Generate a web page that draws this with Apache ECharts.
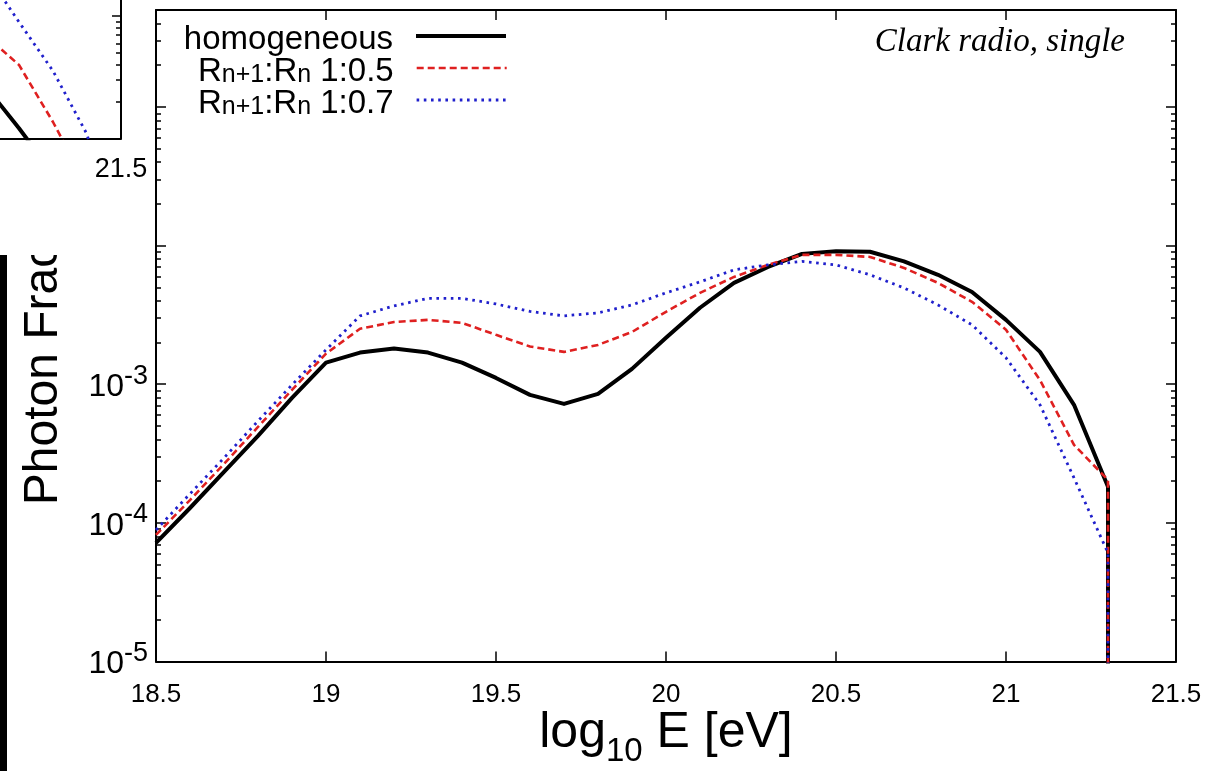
<!DOCTYPE html>
<html>
<head>
<meta charset="utf-8">
<script src="https://cdn.jsdelivr.net/npm/echarts@6/dist/echarts.min.js"></script>
<style>
  html, body { margin: 0; padding: 0; background: #fff; }
  #chart { width: 1209px; height: 771px; }
</style>
</head>
<body>
<div id="chart"></div>
<script>
// Energy bins, log10(E / eV)
const logE = [18.5, 18.6, 18.7, 18.8, 18.9, 19.0, 19.1, 19.2, 19.3, 19.4,
              19.5, 19.6, 19.7, 19.8, 19.9, 20.0, 20.1, 20.2, 20.3, 20.4,
              20.5, 20.6, 20.7, 20.8, 20.9, 21.0, 21.1, 21.2, 21.3];

// Photon fraction per bin
const homogeneous = [7.16e-5, 1.28e-4, 2.33e-4, 4.24e-4, 7.96e-4, 1.43e-3, 1.69e-3, 1.81e-3, 1.69e-3, 1.43e-3,
                     1.11e-3, 8.38e-4, 7.21e-4, 8.51e-4, 1.29e-3, 2.16e-3, 3.56e-3, 5.38e-3, 7.01e-3, 8.71e-3,
                     9.08e-3, 9.02e-3, 7.69e-3, 6.15e-3, 4.63e-3, 2.91e-3, 1.71e-3, 7.10e-4, 1.82e-4];
const ratio05 = [8.18e-5, 1.46e-4, 2.66e-4, 4.92e-4, 9.10e-4, 1.66e-3, 2.51e-3, 2.81e-3, 2.91e-3, 2.77e-3,
                 2.27e-3, 1.87e-3, 1.71e-3, 1.92e-3, 2.38e-3, 3.33e-3, 4.56e-3, 5.94e-3, 7.26e-3, 8.57e-3,
                 8.57e-3, 8.28e-3, 6.90e-3, 5.38e-3, 3.93e-3, 2.47e-3, 1.07e-3, 3.65e-4, 2.04e-4];
const ratio07 = [8.89e-5, 1.62e-4, 2.94e-4, 5.43e-4, 9.89e-4, 1.77e-3, 3.11e-3, 3.67e-3, 4.16e-3, 4.16e-3,
                 3.79e-3, 3.35e-3, 3.11e-3, 3.27e-3, 3.73e-3, 4.56e-3, 5.47e-3, 6.68e-3, 7.26e-3, 7.69e-3,
                 7.26e-3, 6.15e-3, 4.95e-3, 3.73e-3, 2.68e-3, 1.55e-3, 7.10e-4, 2.11e-4, 6.07e-5];

// Nothing above the last bin: this floor lies below the axis, so every curve drops straight down
const belowAxis = 1e-8;

// Neighbouring panel: only the high-energy end of its curves is in view
const logEPrev = [21.1, 21.2, 21.3, 21.4, 21.5];
const homogeneousPrev = [2.7e-5, 1.21e-5, 5.1e-6];
const ratio05Prev = [7.03e-5, 3.99e-5, 1.36e-5, 4.07e-6];
const ratio07Prev = [2.31e-4, 8.97e-5, 3.56e-5, 1.08e-5, 1.0e-6];

// Axis tick labels
const xTickStep = 0.5;
const yLabelValues = [1e-5, 1e-4, 1e-3];
const decadeTicks = [1e-5, 1e-4, 1e-3, 1e-2, 1e-1];

const FONT = "'Liberation Sans', Arial, Helvetica, sans-serif";
const BLACK = '#000';
const RED = '#df2020';
const BLUE = '#2020cc';

function logMinorTicks(lo, hi) {
  const out = [];
  for (let e = -6; e <= 0; e++) {
    for (let k = 2; k <= 9; k++) {
      const v = k * Math.pow(10, e);
      if (v >= lo * 0.999 && v <= hi * 1.001) out.push(v);
    }
  }
  return out;
}

const styles = {
  homogeneous: { color: BLACK, width: 4, type: 'solid', join: 'round' },
  r05: { color: RED, width: 2.6, type: [7, 4] },
  r07: { color: BLUE, width: 2.8, type: [2.6, 4.6] }
};

function pairs(xs, ys, tail) {
  const d = ys.map((y, i) => [xs[i], y]);
  if (tail !== undefined) d.push([xs[ys.length - 1], tail]);
  return d;
}

function lineSeries(name, data, style, xi, yi, z) {
  return {
    type: 'line', name, data, xAxisIndex: xi, yAxisIndex: yi,
    symbol: 'none', z, animation: false, silent: true,
    itemStyle: { color: style.color },
    lineStyle: Object.assign({ cap: 'butt' }, style)
  };
}

const NAME_H = 'homogeneous';
const NAME_05 = 'Rn+1:Rn 1:0.5';
const NAME_07 = 'Rn+1:Rn 1:0.7';
const legendText = {
  [NAME_H]: '{m|homogeneous}',
  [NAME_05]: '{m|R}{s|n+1}{m|:R}{s|n}{m| 1:0.5}',
  [NAME_07]: '{m|R}{s|n+1}{m|:R}{s|n}{m| 1:0.7}'
};
const legendRich = {
  m: { fontFamily: FONT, fontSize: 33, lineHeight: 40, verticalAlign: 'bottom', color: BLACK },
  s: { fontFamily: FONT, fontSize: 25, lineHeight: 8, verticalAlign: 'bottom', color: BLACK }
};
function legendRow(name, style, top) {
  return {
    data: [name], orient: 'vertical', align: 'right',
    right: 701, top, padding: 0,
    itemWidth: 90, itemHeight: 14, selectedMode: false,
    itemStyle: { opacity: 0, borderWidth: 0 },
    lineStyle: { color: style.color, width: style.width, type: style.type },
    formatter: n => legendText[n],
    textStyle: { padding: [0, 18, 0, 0], rich: legendRich }
  };
}

const frame = { show: true, onZero: false, lineStyle: { color: BLACK, width: 2 } };

function yTickAxis(gridIndex, position, min, max, values, len, opts) {
  return Object.assign({
    type: 'log', logBase: 10, gridIndex, position, min, max,
    axisLine: Object.assign({}, frame),
    splitLine: { show: false },
    axisLabel: { show: false },
    axisTick: { show: true, inside: true, length: len, customValues: values,
                lineStyle: { color: BLACK, width: 1.5 } }
  }, opts || {});
}

const yMax = 0.5;
const yMin = 1e-5;
const prevMax = 1e-1;

const option = {
  backgroundColor: '#fff',
  animation: false,
  title: {
    text: 'Clark radio, single', right: 84, top: 26, padding: 0,
    textStyle: { fontFamily: "'Liberation Serif', 'Times New Roman', serif", fontStyle: 'italic',
                 fontWeight: 'normal', fontSize: 33, lineHeight: 33, color: BLACK }
  },
  legend: [
    legendRow(NAME_H, styles.homogeneous, 23),
    legendRow(NAME_05, styles.r05, 55),
    legendRow(NAME_07, styles.r07, 87)
  ],
  grid: [
    { left: 156, top: 10, width: 1020, height: 651.5, outerBoundsMode: 'none', containLabel: false },
    { left: -899, top: -350, width: 1020, height: 488.3, outerBoundsMode: 'none', containLabel: false }
  ],
  xAxis: [
    {
      type: 'value', gridIndex: 0, position: 'bottom', min: 18.5, max: 21.5, interval: xTickStep,
      axisLine: frame, splitLine: { show: false },
      axisTick: { inside: true, length: 10, lineStyle: { color: BLACK, width: 1.5 } },
      axisLabel: { margin: 20, fontFamily: FONT, fontSize: 26, color: BLACK },
      name: '{m|log}{s|10}{m| E [eV]}', nameLocation: 'middle', nameGap: 42.5, nameMoveOverlap: false,
      nameTextStyle: { rich: {
        m: { fontFamily: FONT, fontSize: 50, lineHeight: 58, color: BLACK },
        s: { fontFamily: FONT, fontSize: 33, lineHeight: 33, padding: [38, 0, 0, 0], color: BLACK }
      } }
    },
    {
      type: 'value', gridIndex: 0, position: 'top', min: 18.5, max: 21.5, interval: xTickStep,
      axisLine: frame, splitLine: { show: false }, axisLabel: { show: false },
      axisTick: { inside: true, length: 10, lineStyle: { color: BLACK, width: 1.5 } }
    },
    {
      type: 'value', gridIndex: 1, position: 'bottom', min: 18.5, max: 21.5, interval: xTickStep, z: 10,
      axisLine: frame, splitLine: { show: false },
      axisTick: { inside: true, length: 10, lineStyle: { color: BLACK, width: 1.5 } },
      axisLabel: { margin: 18, fontFamily: FONT, fontSize: 27, color: BLACK,
                   formatter: v => (Math.abs(v - 21.5) < 1e-9 ? '21.5' : '') }
    }
  ],
  yAxis: [
    yTickAxis(0, 'left', yMin, yMax, decadeTicks, 10, {
      axisLabel: {
        show: true, margin: 8, customValues: yLabelValues,
        padding: [6, 0, 0, 0],
        formatter: v => '{b|10}{e|' + Math.round(Math.log10(v)) + '}',
        rich: {
          b: { fontFamily: FONT, fontSize: 32, lineHeight: 32, color: BLACK },
          e: { fontFamily: FONT, fontSize: 27, lineHeight: 27, padding: [0, 0, 22, 0], color: BLACK }
        }
      },
      name: 'Photon Fraction', nameLocation: 'middle', nameGap: 88,
      nameTextStyle: { fontFamily: FONT, fontSize: 48, color: BLACK }
    }),
    yTickAxis(0, 'left', yMin, yMax, logMinorTicks(yMin, yMax), 5, { axisLine: { show: false } }),
    yTickAxis(0, 'right', yMin, yMax, decadeTicks, 10),
    yTickAxis(0, 'right', yMin, yMax, logMinorTicks(yMin, yMax), 5, { axisLine: { show: false } }),
    yTickAxis(1, 'right', yMin, prevMax, decadeTicks, 9, { z: 10 }),
    yTickAxis(1, 'right', yMin, prevMax, logMinorTicks(yMin, prevMax), 5, { z: 10, axisLine: { show: false } })
  ],
  graphic: [
    // the neighbouring panel sits over this corner
    { type: 'rect', z: 5, silent: true, shape: { x: 0, y: 0, width: 151, height: 255 }, style: { fill: '#fff' } },
    { type: 'rect', z: 6, silent: true, shape: { x: 0, y: 255, width: 7, height: 516 }, style: { fill: BLACK } }
  ],
  series: [
    lineSeries(NAME_H, pairs(logE, homogeneous, belowAxis), styles.homogeneous, 0, 0, 2),
    lineSeries(NAME_05, pairs(logE, ratio05, belowAxis), styles.r05, 0, 0, 3),
    lineSeries(NAME_07, pairs(logE, ratio07, belowAxis), styles.r07, 0, 0, 4),
    lineSeries(NAME_H, pairs(logEPrev, homogeneousPrev), styles.homogeneous, 2, 4, 11),
    lineSeries(NAME_05, pairs(logEPrev, ratio05Prev), styles.r05, 2, 4, 12),
    lineSeries(NAME_07, pairs(logEPrev, ratio07Prev), styles.r07, 2, 4, 13)
  ]
};

const chart = echarts.init(document.getElementById('chart'), null, { renderer: 'canvas' });
chart.setOption(option);
</script>
</body>
</html>
